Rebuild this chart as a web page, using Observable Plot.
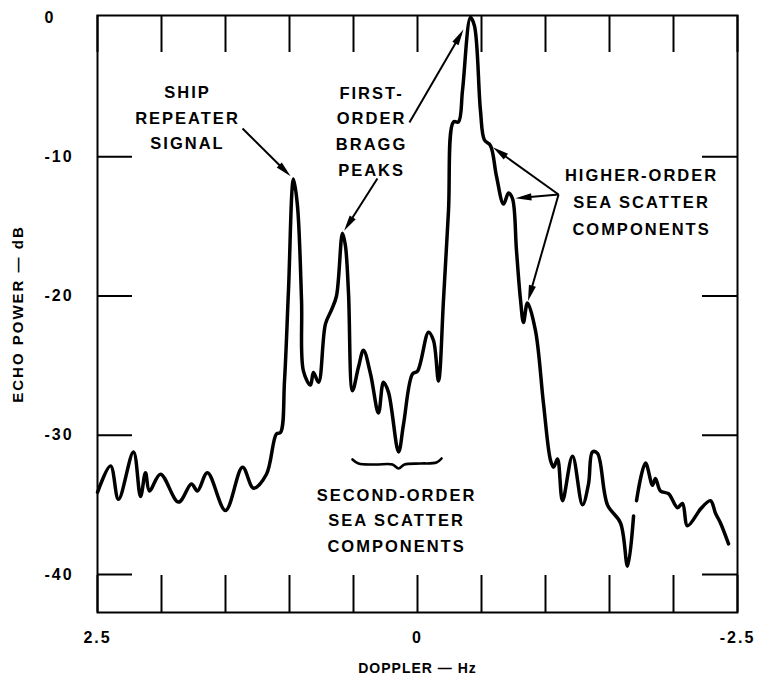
<!DOCTYPE html>
<html>
<head>
<meta charset="utf-8">
<script src="https://cdn.jsdelivr.net/npm/d3@7"></script>
<script src="https://cdn.jsdelivr.net/npm/@observablehq/plot@0.6"></script>
<style>
  body { margin: 0; background: #fff; }
</style>
</head>
<body>
<div id="chart"></div>
<script>
// HF radar sea-echo Doppler spectrum (Hz vs dB)
const doppler = [
  2.5, 2.398, 2.336, 2.219, 2.164, 2.125, 2.094, 2.008, 1.867, 1.766,
  1.719, 1.641, 1.5, 1.367, 1.281, 1.18, 1.102, 1.07, 1.039, 1.008,
  0.969, 0.938, 0.906, 0.891, 0.836, 0.813, 0.773, 0.719, 0.672, 0.633,
  0.586, 0.563, 0.539, 0.508, 0.461, 0.422, 0.367, 0.305, 0.266, 0.227,
  0.148, 0.109, 0.039, 0, -0.086, -0.125, -0.164, -0.203, -0.242, -0.281,
  -0.32, -0.352, -0.414, -0.445, -0.492, -0.523, -0.57, -0.617, -0.672, -0.711,
  -0.742, -0.773, -0.805, -0.828, -0.859, -0.922, -0.984, -1.039, -1.063, -1.094,
  -1.133, -1.211, -1.289, -1.336, -1.367, -1.406, -1.484, -1.586, -1.641, -1.688,
  -1.7, -1.711, -1.781, -1.836, -1.859, -1.898, -1.961, -2.031, -2.07, -2.109,
  -2.188, -2.211, -2.289, -2.328, -2.367, -2.43
];
const power = [
  -34.1, -32.2, -34.6, -31.2, -34.4, -32.7, -34.0, -32.8, -34.8, -33.5,
  -34.0, -32.7, -35.4, -32.3, -33.8, -32.8, -29.9, -29.8, -26.1, -19.6,
  -11.6, -13.5, -20.3, -25.4, -26.4, -25.5, -26.2, -22.0, -21.0, -20.0,
  -15.5, -16.4, -19.8, -26.8, -25.1, -23.9, -25.6, -28.4, -26.2, -26.9,
  -31.2, -29.2, -25.6, -25.4, -22.6, -23.2, -26.1, -20.3, -13.9, -7.5,
  -7.5, -5.2, 0.0, -0.6, -6.7, -8.8, -9.2, -11.4, -13.4, -12.6,
  -13.0, -16.7, -20.3, -21.9, -20.5, -22.5, -27.7, -31.8, -32.3, -31.7,
  -34.7, -31.5, -35.0, -33.5, -31.2, -31.3, -35.0, -36.3, -39.4, -35.8,
  null, -34.7, -32.0, -33.6, -33.1, -34.0, -34.2, -35.2, -34.9, -36.5,
  -35.6, -35.3, -34.7, -35.6, -36.3, -37.8
];

// axis ticks
const xTicks = [2.5, 2.0, 1.5, 1.0, 0.5, 0, -0.5, -1.0, -1.5, -2.0, -2.5];
const xTickLabels = [2.5, 0, -2.5];
const yTicks = [-10, -20, -30, -40];
const yTickLabels = [0, -10, -20, -30, -40];
const xTitle = "DOPPLER — Hz";
const yTitle = "ECHO POWER — dB";

// annotations (label block centre in data units)
const noteText = [
  "SHIP\nREPEATER\nSIGNAL",
  "FIRST-\nORDER\nBRAGG\nPEAKS",
  "HIGHER-ORDER\nSEA SCATTER\nCOMPONENTS",
  "SECOND-ORDER\nSEA SCATTER\nCOMPONENTS"
];
const noteX = [1.797, 0.359, -1.75, 0.164];
const noteY = [-7.04, -8.01, -13.03, -35.94];
const noteLineHeight = [1.52, 1.56, 1.64, 1.55];

// leader arrows: tail position, and the Doppler value of the spectral feature they point to
const arrowTailX = [1.367, 0.313, 0.063, -1.102, -1.102, -1.102];
const arrowTailY = [-7.97, -11.56, -7.54, -12.71, -12.71, -12.71];
const arrowTargetHz = [0.969, 0.586, -0.414, -0.57, -0.742, -0.859];
const arrowInset = [4, 3, 14, 3, 3, 2];

// brace under the second-order continuum
const braceX = [0.508, 0.461, 0.328, 0.195, 0.148, 0.102, -0.023, -0.148, -0.188];
const braceY = [-31.74, -32.03, -32.1, -32.1, -32.39, -32.1, -32.03, -31.96, -31.67];

const W = 757, H = 686;
const mTop = 15, mRight = 20, mBottom = 74, mLeft = 97;
const plotW = W - mLeft - mRight;
const plotH = H - mTop - mBottom;
const xDomain = [2.5, -2.5];
const yDomain = [-42.73, 0.144];
const font = '"Liberation Sans", Arial, Helvetica, sans-serif';

const sx = Plot.scale({x: {domain: xDomain, range: [mLeft, W - mRight]}});
const sy = Plot.scale({y: {domain: yDomain, range: [H - mBottom, mTop]}});

const spectrum = doppler.map((hz, i) => ({hz, db: power[i]}));
const notes = noteText.map((text, i) => ({text, x: noteX[i], y: noteY[i], lh: noteLineHeight[i]}));
const brace = braceX.map((x, i) => ({x, y: braceY[i]}));

// each leader ends a few pixels short of its feature, with a filled head there
const arrows = arrowTargetHz.map((hz, i) => {
  const j = doppler.indexOf(hz);
  const px1 = sx.apply(arrowTailX[i]), py1 = sy.apply(arrowTailY[i]);
  const px2 = sx.apply(doppler[j]), py2 = sy.apply(power[j]);
  const len = Math.hypot(px2 - px1, py2 - py1);
  const ux = (px2 - px1) / len, uy = (py2 - py1) / len;
  const tx = px2 - ux * arrowInset[i], ty = py2 - uy * arrowInset[i];
  return {
    x1: arrowTailX[i], y1: arrowTailY[i],
    x2: sx.invert(tx - ux * 6), y2: sy.invert(ty - uy * 6),
    tipX: sx.invert(tx), tipY: sy.invert(ty),
    angle: Math.atan2(uy, ux) * 180 / Math.PI
  };
});

// slender filled arrowhead, tip at the origin, pointing along +x
const arrowHead = {
  draw(context) {
    context.moveTo(0, 0);
    context.lineTo(-16, -3.6);
    context.lineTo(-16, 3.6);
    context.closePath();
  }
};

const chart = Plot.plot({
  width: W,
  height: H,
  marginTop: mTop,
  marginRight: mRight,
  marginBottom: mBottom,
  marginLeft: mLeft,
  style: {fontFamily: font, fontWeight: "bold", background: "#fff", color: "#000", overflow: "visible"},
  x: {domain: xDomain, axis: null},
  y: {domain: yDomain, axis: null},
  marks: [
    Plot.frame({stroke: "#000", strokeWidth: 2}),
    // inward tick marks on all four sides
    Plot.tickX(xTicks, {x: d => d, insetBottom: plotH - 37, strokeWidth: 2}),
    Plot.tickX(xTicks, {x: d => d, insetTop: plotH - 37, strokeWidth: 2}),
    Plot.tickY(yTicks, {y: d => d, insetRight: plotW - 35, strokeWidth: 2}),
    Plot.tickY(yTicks, {y: d => d, insetLeft: plotW - 35, strokeWidth: 2}),
    // tick labels
    Plot.text(xTickLabels, {x: d => d, frameAnchor: "bottom", lineAnchor: "middle", dy: 25, text: d => String(d), fontSize: 16, fontWeight: "bold", style: "letter-spacing:1.5px"}),
    Plot.text(yTickLabels, {y: d => d, frameAnchor: "left", lineAnchor: "middle", dx: -53, textAnchor: "start", text: d => String(d), fontSize: 16, fontWeight: "bold"}),
    // axis titles
    Plot.text([xTitle], {frameAnchor: "bottom", lineAnchor: "middle", textAnchor: "middle", dy: 56, text: d => d, fontSize: 14, fontWeight: "bold"}),
    Plot.text([yTitle], {frameAnchor: "left", lineAnchor: "middle", textAnchor: "middle", dx: -79, rotate: -90, text: d => d, fontSize: 15, fontWeight: "bold"}),
    // spectrum trace
    Plot.line(spectrum, {x: "hz", y: "db", stroke: "#000", strokeWidth: 3.5, strokeLinejoin: "round", strokeLinecap: "round", curve: "catmull-rom"}),
    // brace
    Plot.line(brace, {x: "x", y: "y", stroke: "#000", strokeWidth: 2.6, curve: "catmull-rom"}),
    // leader arrows
    Plot.link(arrows, {x1: "x1", y1: "y1", x2: "x2", y2: "y2", stroke: "#000", strokeWidth: 2}),
    Plot.dot(arrows, {x: "tipX", y: "tipY", rotate: "angle", symbol: arrowHead, fill: "#000", stroke: "none"}),
    // annotation text
    ...notes.map(n => Plot.text([n], {x: "x", y: "y", text: "text", lineHeight: n.lh, fontSize: 16.5, fontWeight: "bold", fill: "#000"}))
  ]
});

// letter spacing of the printed lettering
chart.querySelectorAll("text").forEach(t => {
  const size = parseFloat(t.closest("[font-size]")?.getAttribute("font-size") || 0);
  t.style.letterSpacing = size >= 16.5 ? "2px" : size >= 15 ? "2px" : "1px";
});

document.getElementById("chart").append(chart);
</script>
</body>
</html>
